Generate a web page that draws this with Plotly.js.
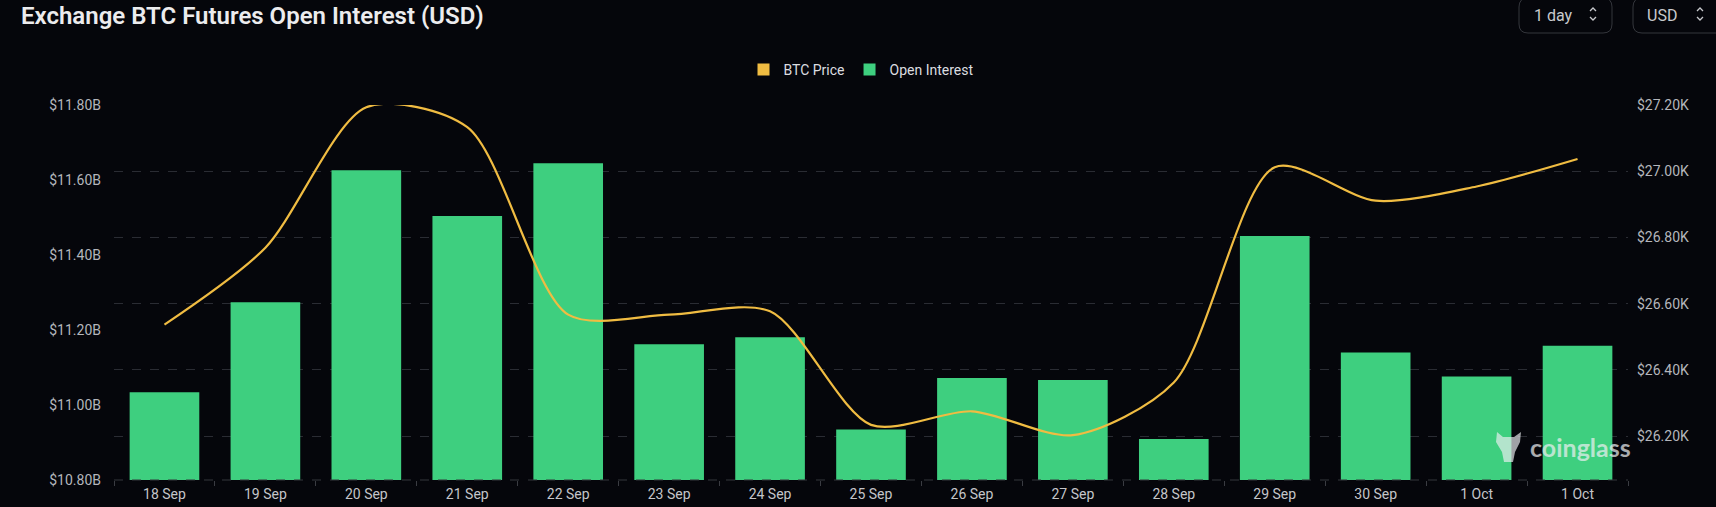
<!DOCTYPE html>
<html>
<head>
<meta charset="utf-8">
<script src="https://cdn.plot.ly/plotly-3.0.1.min.js"></script>
<style>
  html, body { margin: 0; padding: 0; background: #05060b; }
  #chart { width: 1716px; height: 507px; }
</style>
</head>
<body>
<div id="chart"></div>
<script>
// ── data ──
const DAYS = ['18 Sep', '19 Sep', '20 Sep', '21 Sep', '22 Sep', '23 Sep', '24 Sep', '25 Sep',
              '26 Sep', '27 Sep', '28 Sep', '29 Sep', '30 Sep', '1 Oct', '1 Oct'];
const OPEN_INTEREST_B = [11.034, 11.274, 11.626, 11.504, 11.645, 11.162, 11.181, 10.935,
                         11.072, 11.067, 10.909, 11.451, 11.140, 11.076, 11.158];
const BTC_PRICE = [26537, 26769, 27193, 27133, 26567, 26567, 26577, 26234,
                   26275, 26203, 26362, 27012, 26911, 26954, 27037];
const OI_TICKS = [10.8, 11.0, 11.2, 11.4, 11.6, 11.8];
const PRICE_TICKS = [26200, 26400, 26600, 26800, 27000, 27200];

const BG = '#05060b';
const GREEN = '#3ecf7f';
const GOLD = '#f0bc42';
const GRID = '#2a2c33';
const TICK_TXT = '#b4b6bc';

// plot area in pixels (for placing the header decorations)
const PL = 114, PR = 1628, PT = 105, PB = 480;
const px2x = px => (px - PL) / (PR - PL);
const py2y = py => (PB - py) / (PB - PT);

const idx = DAYS.map((d, i) => i);

function roundedBox(x0, y0, x1, y1, r) {
  const X0 = px2x(x0), X1 = px2x(x1), Y0 = py2y(y0), Y1 = py2y(y1);
  const rx = r / (PR - PL), ry = r / (PB - PT);
  return `M ${X0 + rx},${Y0} L ${X1 - rx},${Y0} Q ${X1},${Y0} ${X1},${Y0 - ry} ` +
         `L ${X1},${Y1 + ry} Q ${X1},${Y1} ${X1 - rx},${Y1} L ${X0 + rx},${Y1} ` +
         `Q ${X0},${Y1} ${X0},${Y1 + ry} L ${X0},${Y0 - ry} Q ${X0},${Y0} ${X0 + rx},${Y0} Z`;
}

function chevrons(cx, cy) {
  const up = `M ${px2x(cx - 3)},${py2y(cy - 3)} L ${px2x(cx)},${py2y(cy - 6)} L ${px2x(cx + 3)},${py2y(cy - 3)}`;
  const dn = `M ${px2x(cx - 3)},${py2y(cy + 3)} L ${px2x(cx)},${py2y(cy + 6)} L ${px2x(cx + 3)},${py2y(cy + 3)}`;
  return [up, dn].map(p => ({
    type: 'path', xref: 'paper', yref: 'paper', path: p,
    line: { color: '#c8c9cd', width: 1.3 },
  }));
}

const traces = [
  {
    type: 'bar', name: 'BTC Price', x: [null], y: [null],
    marker: { color: GOLD }, hoverinfo: 'skip',
  },
  {
    type: 'bar', name: 'Open Interest', x: idx, y: OPEN_INTEREST_B,
    marker: { color: GREEN, line: { width: 0 } },
    customdata: DAYS, textposition: 'none',
    hovertemplate: '%{customdata}<br>$%{y:.2f}B<extra></extra>',
  },
  {
    type: 'scatter', mode: 'lines', name: 'BTC Price line', x: idx, y: BTC_PRICE,
    yaxis: 'y2', showlegend: false,
    line: { color: GOLD, width: 2.2, shape: 'spline', smoothing: 0.8 },
    hovertemplate: '$%{y:,.0f}<extra></extra>',
  },
];

const layout = {
  width: 1716, height: 507,
  paper_bgcolor: BG, plot_bgcolor: BG,
  margin: { l: PL, r: 1716 - PR, t: PT, b: 507 - PB },
  font: { family: 'Roboto, "Open Sans", sans-serif', color: TICK_TXT, size: 14 },
  bargap: 0.31,
  showlegend: true,
  legend: {
    orientation: 'h', x: px2x(861), xanchor: 'center', y: py2y(70), yanchor: 'middle',
    font: { size: 14, color: '#dcdde0' }, bgcolor: 'rgba(0,0,0,0)',
    itemclick: false, traceorder: 'normal',
  },
  xaxis: {
    type: 'linear', range: [-0.5, DAYS.length - 0.5], fixedrange: true,
    tickmode: 'array', tickvals: idx, ticktext: DAYS,
    ticks: '', showgrid: false, zeroline: false, showline: false,
    tickfont: { size: 14, color: '#c4c5c9' },
    ticklabelstandoff: 4,
    minor: {
      tickmode: 'array', tickvals: idx.concat([DAYS.length]).map(i => i - 0.5),
      ticks: 'outside', ticklen: 5, tickwidth: 1, tickcolor: '#3a3c42', showgrid: false,
    },
  },
  yaxis: {
    range: [10.8, 11.8], fixedrange: true,
    tickmode: 'array', tickvals: OI_TICKS,
    ticktext: OI_TICKS.map(v => '$' + v.toFixed(2) + 'B'),
    showgrid: false, zeroline: false, showline: false, ticks: '',
    ticklabelstandoff: 12,
  },
  yaxis2: {
    overlaying: 'y', side: 'right', fixedrange: true,
    range: [26067.5, 27200],
    tickmode: 'array', tickvals: PRICE_TICKS,
    ticktext: PRICE_TICKS.map(v => '$' + (v / 1000).toFixed(2) + 'K'),
    showgrid: true, gridcolor: GRID, griddash: 'dash', gridwidth: 1,
    zeroline: false, showline: false, ticks: '',
    ticklabelstandoff: 8,
  },
  shapes: [
    {
      type: 'line', xref: 'paper', yref: 'paper', x0: 0, x1: 1, y0: 0, y1: 0,
      line: { color: '#34363d', width: 1, dash: 'dash' },
    },
    {
      type: 'path', xref: 'paper', yref: 'paper', path: roundedBox(1519, -2, 1612, 33, 9),
      line: { color: '#34363c', width: 1 }, fillcolor: 'rgba(0,0,0,0)',
    },
    {
      type: 'path', xref: 'paper', yref: 'paper', path: roundedBox(1633, -2, 1730, 33, 9),
      line: { color: '#34363c', width: 1 }, fillcolor: 'rgba(0,0,0,0)',
    },
    ...chevrons(1593, 14),
    ...chevrons(1700, 14),
    // rough bull-head mark next to the coinglass watermark
    {
      type: 'path', xref: 'paper', yref: 'paper',
      path: `M ${px2x(1497)},${py2y(432)} L ${px2x(1503)},${py2y(437)} L ${px2x(1514)},${py2y(437)} ` +
            `L ${px2x(1521)},${py2y(432)} L ${px2x(1520)},${py2y(442)} L ${px2x(1515)},${py2y(452)} ` +
            `L ${px2x(1513)},${py2y(462)} L ${px2x(1504)},${py2y(462)} L ${px2x(1502)},${py2y(452)} ` +
            `L ${px2x(1496)},${py2y(442)} Z`,
      line: { width: 0 }, fillcolor: 'rgba(235,238,240,0.68)',
    },
  ],
  annotations: [
    {
      text: 'Exchange BTC Futures Open Interest (USD)', xref: 'paper', yref: 'paper',
      x: px2x(19), y: py2y(16), xanchor: 'left', yanchor: 'middle', showarrow: false,
      font: { size: 24, color: '#ececee', family: 'Roboto, sans-serif', weight: 600 },
    },
    {
      text: '1 day', xref: 'paper', yref: 'paper', x: px2x(1532), y: py2y(15),
      xanchor: 'left', yanchor: 'middle', showarrow: false,
      font: { size: 16, color: '#c8c9cd' },
    },
    {
      text: 'USD', xref: 'paper', yref: 'paper', x: px2x(1645), y: py2y(15),
      xanchor: 'left', yanchor: 'middle', showarrow: false,
      font: { size: 16, color: '#c8c9cd' },
    },
    {
      text: '<b>coinglass</b>', xref: 'paper', yref: 'paper', x: px2x(1528), y: py2y(447),
      xanchor: 'left', yanchor: 'middle', showarrow: false,
      font: { size: 25, color: 'rgba(235,238,240,0.72)', family: 'Lato, Roboto, sans-serif' },
    },
  ],
};

Plotly.newPlot('chart', traces, layout, { displayModeBar: false, staticPlot: true });
</script>
</body>
</html>
